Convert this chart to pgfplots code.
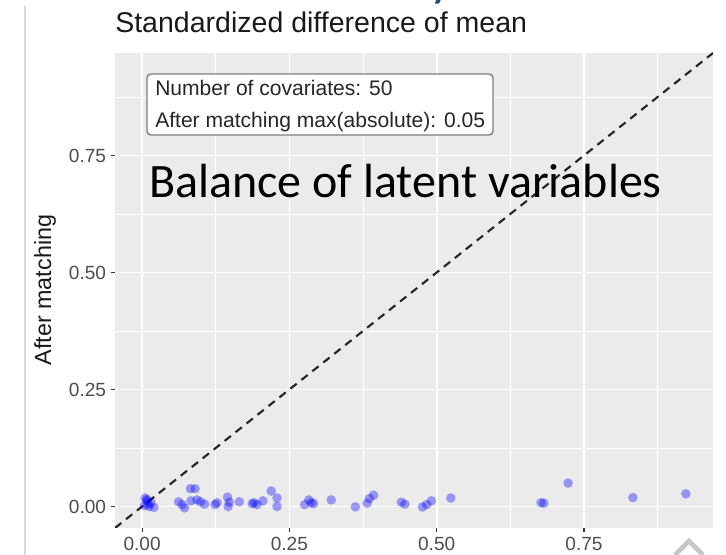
\documentclass[border=0pt]{standalone}
\usepackage{fontspec}
\setmainfont{Liberation Sans}
\newfontfamily\carlito{Carlito}
\usepackage{pgfplots}
\pgfplotsset{compat=1.18}
\definecolor{ggbg}{HTML}{EBEBEB}
\definecolor{ggtick}{HTML}{333333}
\definecolor{gglab}{HTML}{4D4D4D}
\definecolor{slideblue}{HTML}{1F4E79}
\definecolor{boxgrey}{HTML}{7F7F7F}
\begin{document}
\begin{tikzpicture}[x=0.75pt,y=0.75pt]
\useasboundingbox (0,0) rectangle (726,555);
\draw[color=black!15, line width=1.5pt] (25,0) -- (25,549);
\node[anchor=base, text=slideblue, inner sep=0pt] at (442,559) {\carlito\fontsize{40}{40}\selectfont y};
\begin{axis}[
  at={(86.25pt,20.25pt)}, anchor=south west,
  scale only axis, width=448.5pt, height=356.25pt,
  xmin=-0.046, xmax=0.969, ymin=-0.046, ymax=0.969,
  axis background/.style={fill=ggbg},
  axis line style={draw=none},
  xtick={0,0.25,0.5,0.75}, ytick={0,0.25,0.5,0.75},
  xticklabels={0.00,0.25,0.50,0.75}, yticklabels={0.00,0.25,0.50,0.75},
  minor xtick={0.125,0.375,0.625,0.875},
  minor ytick={0.125,0.375,0.625,0.875},
  grid=both,
  major grid style={white, line width=1.3pt},
  minor grid style={white, line width=0.6pt},
  tick align=outside, major tick length=3.2pt, minor tick length=0pt,
  tick style={ggtick, line width=0.9pt},
  xtick pos=lower, ytick pos=left,
  ticklabel style={font=\fontsize{14.3}{16}\selectfont, text=gglab},
  /pgf/number format/assume math mode=true,
  clip=true,
]
\addplot[black!85, line width=1.6pt, dash pattern=on 6pt off 4.5pt] coordinates {(-0.046,-0.046) (0.969,0.969)};
\addplot[only marks, mark=*, mark size=3.6pt, mark options={draw opacity=0, fill=blue, fill opacity=0.36}] coordinates {
(0.005,0.018) (0.008,0.012) (0.010,0.005) (0.012,0.000) (0.015,0.008)
(0.020,-0.002) (0.004,0.002) (0.062,0.010) (0.068,0.004) (0.072,-0.003)
(0.082,0.038) (0.090,0.038) (0.083,0.012) (0.093,0.014) (0.099,0.010)
(0.106,0.005) (0.124,0.004) (0.127,0.008) (0.145,0.020) (0.146,0.000)
(0.148,0.009) (0.165,0.010) (0.187,0.006) (0.190,0.008) (0.205,0.012)
(0.219,0.033) (0.229,0.018) (0.229,0.000) (0.276,0.004) (0.283,0.014)
(0.287,0.008) (0.291,0.006) (0.321,0.014) (0.362,-0.001) (0.382,0.007)
(0.386,0.017) (0.393,0.024) (0.440,0.009) (0.446,0.005) (0.476,-0.001)
(0.483,0.004) (0.491,0.012) (0.524,0.018) (0.677,0.008) (0.682,0.007)
(0.723,0.050) (0.833,0.019) (0.923,0.027) (0.008,0.015) (0.195,0.004)
};
\end{axis}
\node[anchor=base west, inner sep=0pt, text=black!90] at (115,522) {\fontsize{21.4}{24}\selectfont Standardized difference of mean};
\node[rotate=90, anchor=center, inner sep=0pt, text=black!90] at (45,265) {\fontsize{17.5}{20}\selectfont After matching};
\draw[boxgrey, line width=1.1pt, fill=white, rounded corners=3pt] (147,420) rectangle (493,481);
\node[anchor=base west, inner sep=0pt, text=black!85] at (155,459.5) {\fontsize{15.8}{18}\selectfont Number of covariates: 50};
\node[anchor=base west, inner sep=0pt, text=black!85] at (155,427.5) {\fontsize{15.8}{18}\selectfont After matching max(absolute): 0.05};
\node[anchor=base west, inner sep=0pt, text=black] at (149,357) {\carlito\fontsize{36}{40}\selectfont Balance of latent variables};
\draw[color=black!22, line width=3.5pt, line join=miter] (675,0) -- (689,14) -- (703,0);
\end{tikzpicture}
\end{document}
